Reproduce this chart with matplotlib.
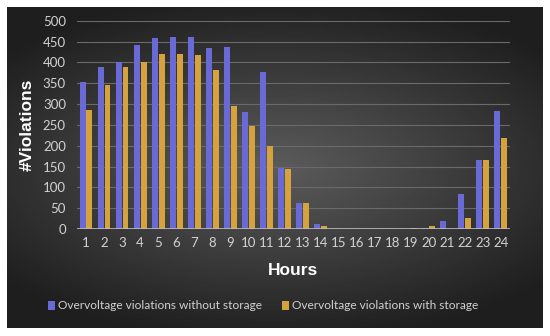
import matplotlib

matplotlib.use("Agg")
import matplotlib.pyplot as plt
import numpy as np

hours = list(range(1, 25))
without_storage = [352, 390, 402, 442, 458, 460, 460, 435, 438, 282, 378, 147,
                   63, 12, 0, 0, 0, 0, 0, 2, 20, 85, 167, 283]
with_storage = [285, 345, 390, 400, 420, 420, 418, 383, 295, 248, 200, 145,
                63, 8, 0, 0, 0, 0, 3, 7, 0, 27, 167, 218]
y_ticks = list(range(0, 501, 50))

BLUE = "#6a6ad6"
GOLD = "#d6a23e"
TICK_COLOR = "#d2d2d2"

plt.rcParams["font.family"] = ["Lato", "DejaVu Sans"]


def build_plot():
    fig = plt.figure(figsize=(5.5, 3.36), dpi=100)
    fig.patch.set_facecolor("white")

    # dark radial gradient panel behind the chart
    bg = fig.add_axes([7 / 550, 8 / 336, 536 / 550, 321 / 336])
    yy, xx = np.mgrid[-1:1:200j, -1:1:300j]
    r = np.sqrt((xx * 0.9) ** 2 + (yy * 1.1) ** 2)
    grad = np.clip(0.36 - 0.2 * r, 0.12, 0.36)
    bg.imshow(grad, cmap="gray", vmin=0, vmax=1, aspect="auto",
              extent=[0, 1, 0, 1])
    bg.set_axis_off()
    bg.set_zorder(0)

    ax = fig.add_axes([0.14, 0.318, 0.787, 0.62])
    ax.set_zorder(1)
    ax.patch.set_alpha(0)

    x = np.array(hours)
    w = 0.33
    ax.bar(x - 0.19, without_storage, width=w, color=BLUE, zorder=3,
           label="Overvoltage violations without storage")
    ax.bar(x + 0.19, with_storage, width=w, color=GOLD, zorder=3,
           label="Overvoltage violations with storage")

    ax.set_xlim(0.5, 24.5)
    ax.set_ylim(0, 500)
    ax.set_yticks(y_ticks)
    ax.set_xticks(hours)
    ax.yaxis.grid(True, color="#6a6a6a", linewidth=0.8, zorder=0)
    ax.axhline(0, color="#bdbdbd", linewidth=1.2, zorder=4)
    for s in ax.spines.values():
        s.set_visible(False)
    ax.tick_params(length=0, colors=TICK_COLOR, labelsize=9.5)
    ax.tick_params(axis="x", pad=6)
    ax.tick_params(axis="y", pad=8)

    title_font = {"family": ["Liberation Sans", "DejaVu Sans"],
                  "weight": "bold", "size": 12.5}
    ax.set_ylabel("#Violations", color="white", fontdict=title_font,
                  labelpad=6)
    ax.set_xlabel("Hours", color="white", fontdict=title_font, labelpad=10)

    ax.legend(loc="upper center", bbox_to_anchor=(0.43, -0.29), ncol=2,
              frameon=False, fontsize=8.6, handlelength=0.6,
              handleheight=0.8, handletextpad=0.3, columnspacing=1.6,
              labelcolor=TICK_COLOR)
    return fig, ax


def main() -> None:
    fig, _ = build_plot()
    fig.savefig("out.png", dpi=100)


if __name__ == "__main__":
    main()
